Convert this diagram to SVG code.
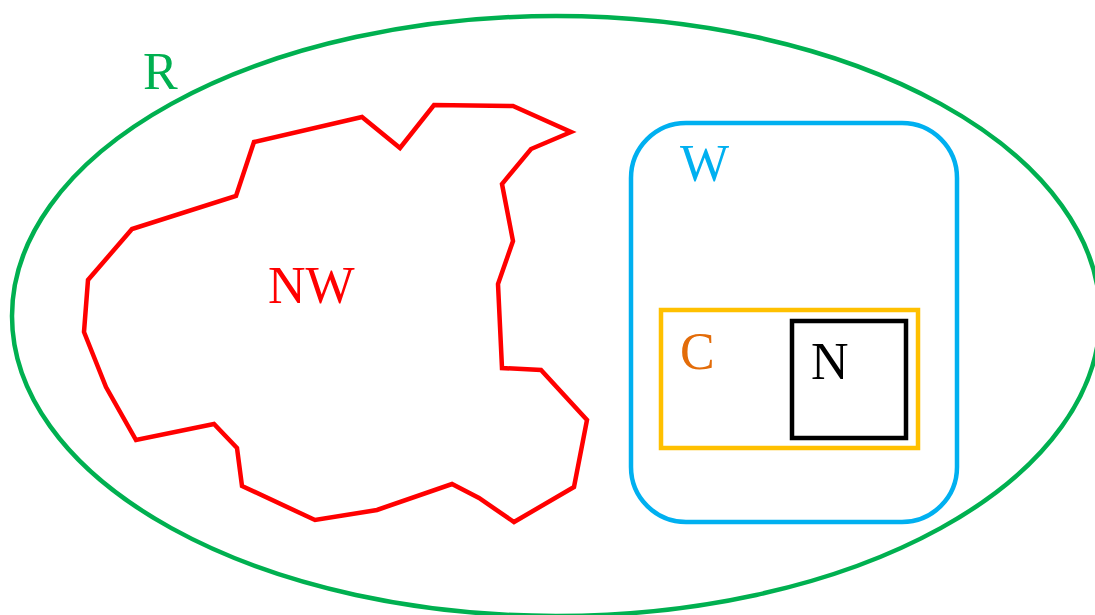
<svg xmlns="http://www.w3.org/2000/svg" width="1095" height="615" viewBox="0 0 1095 615">
<style>
.lbl{font-family:"Liberation Serif","Times New Roman",serif;font-size:52px}
.shape{fill:none;stroke-width:4.5}
</style>
<rect width="1095" height="615" fill="#fff"/>
<g id="R">
<ellipse class="shape" cx="556" cy="316" rx="544" ry="300" stroke="#00B050"/>
<text class="lbl" x="143" y="89" fill="#00B050">R</text>
</g>
<g id="NW">
<polygon class="shape" stroke="#FF0000" stroke-linejoin="miter" points="254,142 362,117 400,148 434,105 513,106 571,132 531,149 502,184 513,241 498,284 502,368 541,370 587,420 574,487 514,522 479,498 452,484 377,510 315,520 242,486 237,448 214,424 136,440 106,387 84,332 88,280 132,229 236,196"/>
<text class="lbl" x="268" y="303" fill="#FF0000">NW</text>
</g>
<g id="W">
<rect class="shape" x="631" y="123" width="326" height="399" rx="55" ry="55" stroke="#00B0F0"/>
<text class="lbl" x="680" y="181" fill="#00B0F0">W</text>
</g>
<g id="C">
<rect class="shape" x="661" y="310" width="257" height="138" stroke="#FFC000"/>
<text class="lbl" x="680" y="369" fill="#E36C09">C</text>
</g>
<g id="N">
<rect class="shape" x="792" y="321" width="114" height="117" stroke="#000"/>
<text class="lbl" x="811" y="379" fill="#000">N</text>
</g>
<g id="connectors"></g>
</svg>
